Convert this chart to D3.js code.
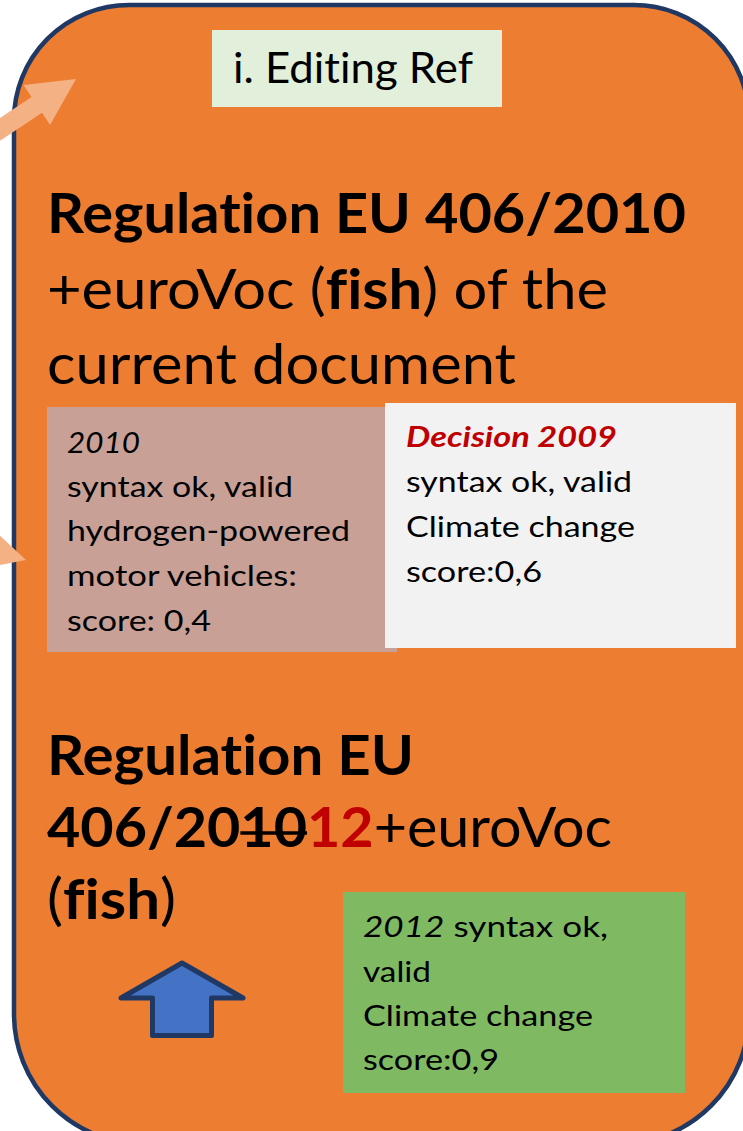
<!DOCTYPE html>
<html>
<head>
<meta charset="utf-8">
<script src="https://d3js.org/d3.v7.min.js"></script>
<style>
body{margin:0;background:#fff;}
svg{display:block;}
text{font-family:Lato,'Open Sans',sans-serif;font-variant-ligatures:none;font-feature-settings:"liga" 0,"clig" 0;}
</style>
</head>
<body>
<svg id="sheet" width="743" height="1131"></svg>
<script>
// text of the slide, one array per block. each piece is [words, style]
// style letters: b bold, i italic, r red, s struck out
var titleWords = [[["i. Editing Ref",""]]];
var headTop = [
  [["Regulation EU 406/2010","b"]],
  [["+euroVoc (",""],["fish","b"],[") of the",""]],
  [["current document",""]]
];
var headBottom = [
  [["Regulation EU","b"]],
  [["406/20","b"],["10","bs"],["12","br"],["+euroVoc",""]],
  [["(",""],["fish","b"],[")",""]]
];
var card2010 = [[["2010","i"]],[["syntax ok, valid",""]],[["hydrogen-powered",""]],[["motor vehicles:",""]],[["score: 0,4",""]]];
var card2009 = [[["Decision 2009","bir"]],[["syntax ok, valid",""]],[["Climate change",""]],[["score:0,6",""]]];
var card2012 = [[["2012","i"],[" syntax ok,",""]],[["valid",""]],[["Climate change",""]],[["score:0,9",""]]];

var svg = d3.select('#sheet');
var orange='#ed7d31', navy='#1f3864', peach='#f4b183', red='#c00000';

// big rounded frame, it runs off the right and bottom of the page
function frame(x0,y0,x1,y1,rt,rb){
  return 'M'+(x0+rt)+','+y0+' L'+(x1-rt)+','+y0+' A'+rt+','+rt+' 0 0 1 '+x1+','+(y0+rt)+
    ' L'+x1+','+(y1-rb)+' A'+rb+','+rb+' 0 0 1 '+(x1-rb)+','+y1+
    ' L'+(x0+rb)+','+y1+' A'+rb+','+rb+' 0 0 1 '+x0+','+(y1-rb)+
    ' L'+x0+','+(y0+rt)+' A'+rt+','+rt+' 0 0 1 '+(x0+rt)+','+y0+'Z';
}
svg.append('path').attr('d',frame(14,5,749,1144,115,130))
  .attr('fill',orange).attr('stroke',navy).attr('stroke-width',4.5);

// block arrow: tip point, direction in degrees
function arrowPts(tx,ty,deg,shaftLen,shaftHalf,headLen,headHalf){
  var a=deg*Math.PI/180, dx=Math.cos(a), dy=Math.sin(a), nx=-dy, ny=dx;
  function p(along,side){return [tx-dx*along+nx*side, ty-dy*along+ny*side];}
  return [p(0,0),p(headLen,headHalf),p(headLen,shaftHalf),p(headLen+shaftLen,shaftHalf),
          p(headLen+shaftLen,-shaftHalf),p(headLen,-shaftHalf),p(headLen,-headHalf)];
}
var line = d3.line();
svg.append('path').attr('d',line(arrowPts(76,79,-33.5,120,9.5,47,24))+'Z').attr('fill',peach);
svg.append('path').attr('d',line(arrowPts(26,560,16,120,9.5,47,24))+'Z').attr('fill',peach);

// boxes
var boxes = [
  {x:212,y:30,w:290,h:77,fill:'#e2efda'},
  {x:47,y:407,w:350,h:245,fill:'#c9a096'},
  {x:385,y:403,w:351,h:245,fill:'#f2f2f2'},
  {x:343,y:892,w:342,h:201,fill:'#7fba62'}
];
svg.selectAll('rect.box').data(boxes).enter().append('rect').attr('class','box')
  .attr('x',d=>d.x).attr('y',d=>d.y).attr('width',d=>d.w).attr('height',d=>d.h).attr('fill',d=>d.fill);

// up arrow
var up = [[182,963],[243,998],[211.5,998],[211.5,1035.5],[152.5,1035.5],[152.5,998],[121,998]];
svg.append('path').attr('d',line(up)+'Z').attr('fill','#4472c4')
  .attr('stroke',navy).attr('stroke-width',5).attr('stroke-linejoin','round');

var textBlocks = [
  {lines:titleWords, x:233, base:[83], size:43, widths:[240]},
  {lines:headTop, x:47, base:[233,309,384], size:56, widths:[639,561,469]},
  {lines:headBottom, x:47, base:[775,847,919], size:56, widths:[367,565,129]},
  {lines:card2010, x:67, base:[453,497,541,586,631], size:29, widths:[73,226,283,230,144]},
  {lines:card2009, x:406, base:[447,492,537,582], size:29, widths:[211,226,229,136]},
  {lines:card2012, x:363, base:[937,982,1026,1070], size:29, widths:[245,68,230,136]}
];

textBlocks.forEach(function(blk){
  blk.lines.forEach(function(pieces,i){
    var t = svg.append('text').attr('x',blk.x).attr('y',blk.base[i])
      .attr('font-size',blk.size).attr('fill','#000');
    var strikes=[], pos=0;
    pieces.forEach(function(pc){
      var s=pc[1];
      t.append('tspan').text(pc[0])
        .attr('font-weight',s.indexOf('b')>=0?'bold':'normal')
        .attr('font-style',s.indexOf('i')>=0?'italic':'normal')
        .attr('fill',s.indexOf('r')>=0?red:'#000');
      if(s.indexOf('s')>=0) strikes.push([pos,pos+pc[0].length-1]);
      pos+=pc[0].length;
    });
    t.attr('textLength',blk.widths[i]).attr('lengthAdjust','spacingAndGlyphs');
    var node=t.node();
    strikes.forEach(function(st){
      var x0=node.getStartPositionOfChar(st[0]).x, x1=node.getEndPositionOfChar(st[1]).x;
      svg.append('line').attr('x1',x0).attr('x2',x1)
        .attr('y1',blk.base[i]-blk.size*0.25).attr('y2',blk.base[i]-blk.size*0.25)
        .attr('stroke','#000').attr('stroke-width',3.5);
    });
  });
});
</script>
</body>
</html>
